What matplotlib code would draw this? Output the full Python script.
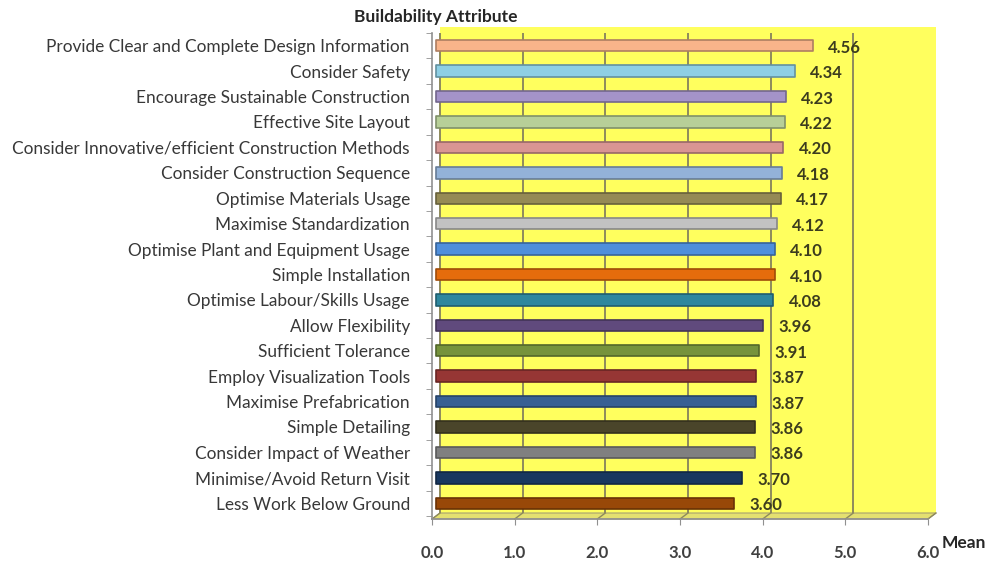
import matplotlib.pyplot as plt
import matplotlib.colors as mcolors
from matplotlib.transforms import ScaledTranslation
from matplotlib.patches import Rectangle, Polygon

plt.rcParams['font.family'] = ['Lato', 'DejaVu Sans']

attributes = [
    "Provide Clear and Complete Design Information",
    "Consider Safety",
    "Encourage Sustainable Construction",
    "Effective Site Layout",
    "Consider Innovative/efficient Construction Methods",
    "Consider Construction Sequence",
    "Optimise Materials Usage",
    "Maximise Standardization",
    "Optimise Plant and Equipment Usage",
    "Simple Installation",
    "Optimise Labour/Skills Usage",
    "Allow Flexibility",
    "Sufficient Tolerance",
    "Employ Visualization Tools",
    "Maximise Prefabrication",
    "Simple Detailing",
    "Consider Impact of Weather",
    "Minimise/Avoid Return Visit",
    "Less Work Below Ground",
]
means = [4.56, 4.34, 4.23, 4.22, 4.20, 4.18, 4.17, 4.12, 4.10, 4.10,
         4.08, 3.96, 3.91, 3.87, 3.87, 3.86, 3.86, 3.70, 3.60]
bar_colors = ["#F9B48A", "#8ECFE4", "#A493C9", "#B7CF98", "#D99593", "#93B2D8",
              "#958A55", "#C2C2C2", "#4F8FDB", "#E56C0C", "#2E879E", "#604A7D",
              "#76933C", "#963634", "#386093", "#4A452A", "#808080", "#18375F",
              "#984808"]
xticks = [0, 1, 2, 3, 4, 5, 6]

fig = plt.figure(figsize=(9.88, 5.62), dpi=100)
ax = fig.add_axes([432/988, 1-519/562, 496/988, 486/562])
ax.set_xlim(0, 6)
ax.set_ylim(18.62, -0.48)
ax.patch.set_visible(False)

# 3d depth offset (pixels)
dx, dy = 8, 6
back = ax.transAxes + ScaledTranslation(dx/100, dy/100, fig.dpi_scale_trans)
wall = Rectangle((0, 0), 1, 1, transform=back, facecolor="#FFFF5E",
                 edgecolor="none", zorder=0, clip_on=False)
ax.add_patch(wall)
fx, fy = dx/496, dy/486
floor = Polygon([(0, 0), (1, 0), (1+fx, fy), (fx, fy)], closed=True,
                transform=ax.transAxes, facecolor="#E4E070",
                edgecolor="#A8A070", lw=0.8, zorder=0.5, clip_on=False)
ax.add_patch(floor)
gtrans = ax.get_xaxis_transform() + ScaledTranslation(dx/100, dy/100, fig.dpi_scale_trans)
ax.vlines(xticks[:-1], 0, 1, transform=gtrans, colors="#8E8A5C", lw=1.4, zorder=1)
ax.vlines([xticks[-1]], 0, 1, transform=gtrans, colors="#7F7F7F", lw=1.6, zorder=1)
# floor connectors from front ticks to back gridlines
for t in xticks:
    x0 = t / 6
    ax.plot([x0, x0+fx], [0, fy], transform=ax.transAxes, color="#8E8A5C",
            lw=1.0, zorder=1, clip_on=False)

edge_colors = [tuple(c*0.7 for c in mcolors.to_rgb(col)) for col in bar_colors]
btrans = ax.transData + ScaledTranslation(4/100, 0, fig.dpi_scale_trans)
ypos = list(range(len(attributes)))
ax.barh(ypos, means, height=0.45, color=bar_colors, edgecolor=edge_colors,
        lw=1.2, joinstyle="round", transform=btrans, zorder=3)
for i, v in enumerate(means):
    ax.annotate(f"{v:.2f}", (v, i), xytext=(14, -1.5), textcoords="offset points",
                ha="left", va="center", fontsize=12, fontweight="bold",
                color="#3C3C1E", zorder=4)

ax.set_yticks(ypos)
ax.set_yticklabels(attributes, fontsize=12.4, color="#383838")
ax.tick_params(axis="y", which="major", length=0, pad=16)
ax.set_yticks([i + 0.5 for i in range(-1, len(attributes))], minor=True)
ax.tick_params(axis="y", which="minor", length=4, color="#909090", direction="out")
ax.set_xticks(xticks)
ax.set_xticklabels([f"{t:.1f}" for t in xticks], fontsize=12, fontweight="bold",
                   color="#404040")
ax.tick_params(axis="x", length=4, color="#909090", direction="out", pad=15)
for s in ["top", "right"]:
    ax.spines[s].set_visible(False)
ax.spines["left"].set_color("#909090")
ax.spines["bottom"].set_color("#909090")
ax.spines["left"].set_linewidth(1.2)
ax.spines["bottom"].set_linewidth(1.2)

fig.text(436/988, 1-17/562, "Buildability Attribute", ha="center", va="center",
         fontsize=12.5, fontweight="bold", color="#262626")
fig.text(942/988, 1-543/562, "Mean", ha="left", va="center",
         fontsize=12.5, fontweight="bold", color="#262626")

fig.savefig("out.png", dpi=100)
